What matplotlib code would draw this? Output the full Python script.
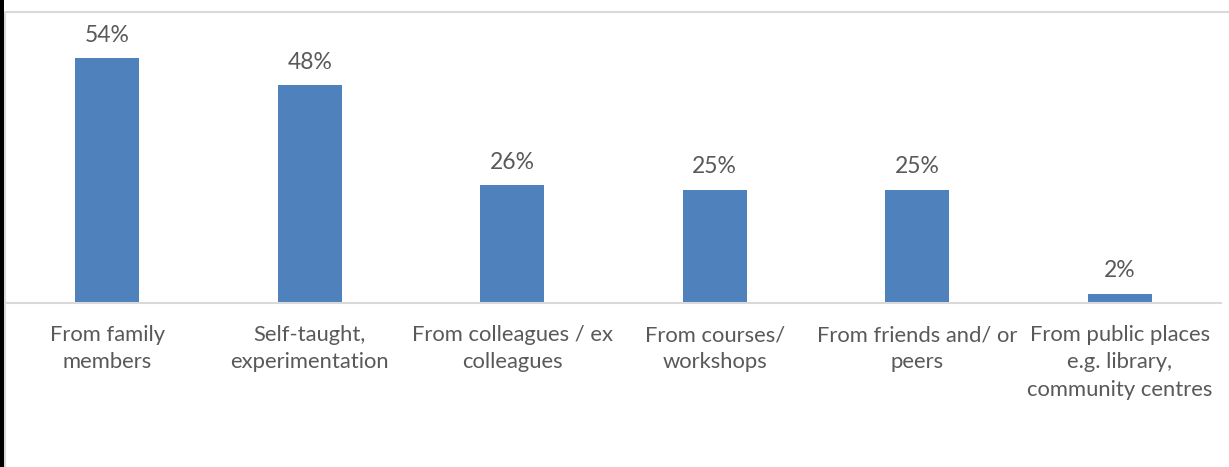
import matplotlib.pyplot as plt
from matplotlib.patches import Rectangle

# data
categories = ["From family\nmembers", "Self-taught,\nexperimentation",
              "From colleagues / ex\ncolleagues", "From courses/\nworkshops",
              "From friends and/ or\npeers",
              "From public places\ne.g. library,\ncommunity centres"]
values = [54, 48, 26, 25, 25, 2]
value_labels = ["54%", "48%", "26%", "25%", "25%", "2%"]

bar_color = "#4f81bd"
text_color = "#595959"
plt.rcParams['font.family'] = ['Lato', 'DejaVu Sans']

W, H = 1229, 467
fig = plt.figure(figsize=(W / 100, H / 100), dpi=100)

# chart frame (cut off on right and bottom) and dark strip on the left
fig.patches.append(Rectangle((5 / W, -0.1), 1.2, 1 - 12 / H + 0.1, transform=fig.transFigure,
                             fill=False, edgecolor="#d9d9d9", linewidth=1.5))
fig.patches.append(Rectangle((0, 0), 4 / W, 1, transform=fig.transFigure,
                             facecolor="black", edgecolor="none"))

ax = fig.add_axes([6 / W, (H - 303) / H, (1221 - 6) / W, (303 - 31) / H])
x = range(len(values))
bars = ax.bar(x, values, width=0.316, color=bar_color)
for b, lab in zip(bars, value_labels):
    ax.annotate(lab, (b.get_x() + b.get_width() / 2, b.get_height()),
                xytext=(0, 9), textcoords="offset points", ha="center", va="bottom",
                fontsize=16.5, color=text_color)

ax.set_xlim(-0.5, len(values) - 0.5)
ax.set_ylim(0, 60)
ax.set_xticks(list(x))
ax.set_xticklabels(categories, fontsize=15.8, color=text_color, linespacing=1.45)
ax.tick_params(axis="x", length=0, pad=16)
ax.set_yticks([])
for s in ["top", "right", "left"]:
    ax.spines[s].set_visible(False)
ax.spines["bottom"].set_color("#d9d9d9")
ax.spines["bottom"].set_linewidth(1.5)

fig.savefig("out.png", dpi=100)
